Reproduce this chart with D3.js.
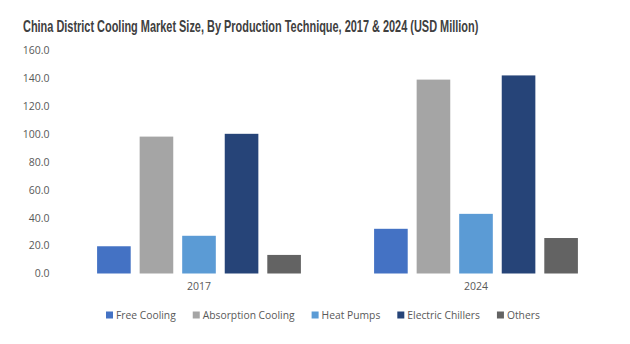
<!DOCTYPE html>
<html>
<head>
<meta charset="utf-8">
<script src="https://cdn.jsdelivr.net/npm/d3@7"></script>
<style>
  body { margin: 0; background: #fff; }
  text { font-family: "Open Sans", "Liberation Sans", sans-serif; }
</style>
</head>
<body>
<div class="chart"></div>
<script>
// ---- data ----
const years = ['2017', '2024']
const series = ['Free Cooling', 'Absorption Cooling', 'Heat Pumps', 'Electric Chillers', 'Others']
const values2017 = [19.5, 98.0, 27.0, 100.0, 13.3]
const values2024 = [32.0, 138.8, 42.7, 141.8, 25.4]
const yTicks = [0, 20, 40, 60, 80, 100, 120, 140, 160]
const colors = ['#4472C4', '#A5A5A5', '#5B9BD5', '#264478', '#636363']

const data = years.map((y, i) => ({
  year: y,
  values: series.map((s, j) => ({ name: s, value: [values2017, values2024][i][j] }))
}))

const width = 630
const height = 344
const margin = { top: 50, right: 15.5, bottom: 70.5, left: 60.5 }
const innerH = height - margin.top - margin.bottom

const svg = d3.select('.chart')
  .append('svg')
    .attr('width', width)
    .attr('height', height)

// title - condensed bold, squeezed horizontally to the reference width
const title = svg.append('text')
  .attr('x', 0)
  .attr('y', 0)
  .style('font-family', '"Liberation Sans Narrow", "Liberation Sans", Arial, sans-serif')
  .style('font-size', '16px')
  .style('font-weight', 'bold')
  .attr('fill', '#404040')
  .text('China District Cooling Market Size, By Production Technique, 2017 & 2024 (USD Million)')
const titleW = title.node().getComputedTextLength()
title.attr('transform', `translate(23, 32) scale(${Math.min(1, 456 / titleW)}, 1)`)

const g = svg.append('g')
  .attr('transform', `translate(${margin.left}, ${margin.top})`)

const yScale = d3.scaleLinear()
  .domain([0, 160])
  .range([innerH, 0])

const x0 = d3.scaleBand()
  .domain(years)
  .range([0, width - margin.left - margin.right])

const x1 = d3.scaleBand()
  .domain(series)
  .range([0, x0.bandwidth()])
  .paddingInner(0.21)
  .paddingOuter(0.86)

const color = d3.scaleOrdinal().domain(series).range(colors)

// y axis labels, no line
const yAxis = d3.axisLeft(yScale)
  .tickValues(yTicks)
  .tickFormat(d3.format('.1f'))
  .tickSize(0)
  .tickPadding(11)
g.append('g')
  .call(yAxis)
  .call(s => s.select('.domain').remove())
  .selectAll('text')
    .attr('fill', '#595959')
    .style('font-size', '10.5px')
    .style('font-family', '"Open Sans", sans-serif')

// x axis labels, no line
const xAxis = d3.axisBottom(x0).tickSize(0).tickPadding(9)
g.append('g')
  .attr('transform', `translate(0, ${innerH})`)
  .call(xAxis)
  .call(s => s.select('.domain').remove())
  .selectAll('text')
    .attr('fill', '#595959')
    .style('font-size', '10.5px')
    .style('font-family', '"Open Sans", sans-serif')

// bars
g.selectAll('g.group')
  .data(data)
  .enter()
  .append('g')
    .attr('class', 'group')
    .attr('transform', d => `translate(${x0(d.year)}, 0)`)
  .selectAll('rect')
  .data(d => d.values)
  .enter()
  .append('rect')
    .attr('x', d => x1(d.name))
    .attr('width', x1.bandwidth())
    .attr('y', d => yScale(d.value))
    .attr('height', d => innerH - yScale(d.value))
    .attr('fill', d => color(d.name))

// legend
const legend = svg.append('g')
  .attr('transform', 'translate(106, 315)')
let lx = 0
series.forEach(s => {
  const item = legend.append('g').attr('transform', `translate(${lx}, 0)`)
  item.append('rect')
    .attr('x', 0)
    .attr('y', -3.5)
    .attr('width', 7)
    .attr('height', 7)
    .attr('fill', color(s))
  const t = item.append('text')
    .attr('x', 10)
    .attr('y', 0)
    .attr('dy', '0.35em')
    .attr('fill', '#595959')
    .style('font-size', '10.3px')
    .text(s)
  lx += 10 + t.node().getComputedTextLength() + 17
})
</script>
</body>
</html>
